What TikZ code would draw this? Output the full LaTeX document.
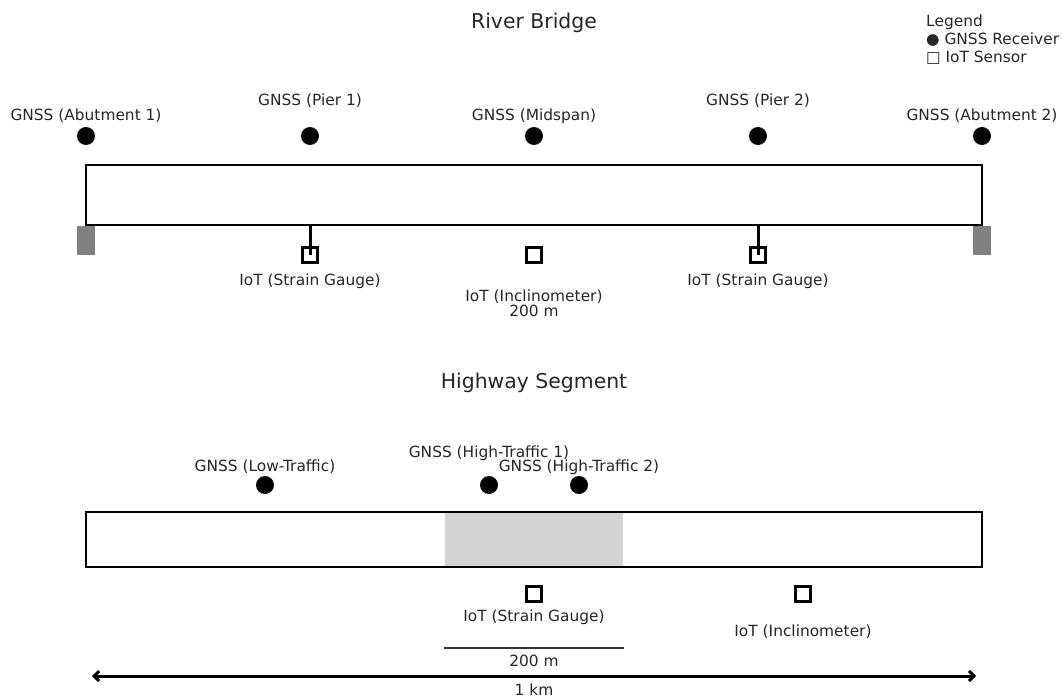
\documentclass[tikz,border=0pt]{standalone}
\usepackage{fontspec}
\setmainfont{DejaVu Sans}
\usetikzlibrary{arrows.meta}
\begin{document}
\begin{tikzpicture}[x=1pt,y=-1pt,
  lbl/.style={inner sep=0pt,font=\fontsize{15.4}{17}\selectfont,text=black!85},
  ttl/.style={inner sep=0pt,font=\fontsize{20.4}{23}\selectfont,text=black!85},
  gnss/.style={circle,fill=black,minimum size=18pt,inner sep=0pt},
  iot/.style={rectangle,draw=black,fill=white,line width=2.2pt,minimum size=15pt,inner sep=0pt},
  deck/.style={draw=black,line width=2.2pt},
  abut/.style={fill=black!50,draw=none}]
\useasboundingbox (0,0) rectangle (1062,698);
% Titles
\node[ttl] (t1) at (534,23) {River Bridge};
\node[ttl] (t2) at (534,383) {Highway Segment};
% Legend
\node[lbl,anchor=west] (lg) at (926,22) {Legend};
\node[lbl,anchor=west] (lg1) at (926,40) {● GNSS Receiver};
\node[lbl,anchor=west] (lg2) at (926,58) {□ IoT Sensor};
% Bridge deck
\draw[deck] (86,165) rectangle (982,225);
\coordinate (deckP1) at (310,225);
\coordinate (deckP2) at (758,225);
% Abutments
\fill[abut] (77,226) rectangle (95,255);
\fill[abut] (973,226) rectangle (991,255);
% Bridge GNSS
\node[gnss] (g1) at (86,136) {};
\node[gnss] (g2) at (310,136) {};
\node[gnss] (g3) at (534,136) {};
\node[gnss] (g4) at (758,136) {};
\node[gnss] (g5) at (982,136) {};
\node[lbl] (lg1t) at (86,116) {GNSS (Abutment 1)};
\node[lbl] (lg2t) at (310,101) {GNSS (Pier 1)};
\node[lbl] (lg3t) at (534,116) {GNSS (Midspan)};
\node[lbl] (lg4t) at (758,101) {GNSS (Pier 2)};
\node[lbl] (lg5t) at (982,116) {GNSS (Abutment 2)};
% Bridge IoT
\node[iot] (i1) at (310,255) {};
\node[iot] (i2) at (534,255) {};
\node[iot] (i3) at (758,255) {};
\draw[line width=3pt] (deckP1) -- (i1.center);
\draw[line width=3pt] (deckP2) -- (i3.center);
\node[lbl] (i1t) at (310,281) {IoT (Strain Gauge)};
\node[lbl] (i2t) at (534,297) {IoT (Inclinometer)};
\node[lbl] (i3t) at (758,281) {IoT (Strain Gauge)};
\node[lbl] (s1) at (534,311) {200 m};
% Highway
\fill[black!17] (445,513) rectangle (623,566);
\draw[deck] (86,512) rectangle (982,567);
\node[gnss] (h1) at (265,485) {};
\node[gnss] (h2) at (489,485) {};
\node[gnss] (h3) at (579,485) {};
\node[lbl] (h1t) at (265,467) {GNSS (Low-Traffic)};
\node[lbl] (h2t) at (489,453) {GNSS (High-Traffic 1)};
\node[lbl] (h3t) at (579,467) {GNSS (High-Traffic 2)};
\node[iot] (j1) at (534,594) {};
\node[iot] (j2) at (803,594) {};
\node[lbl] (j1t) at (534,617) {IoT (Strain Gauge)};
\node[lbl] (j2t) at (803,632) {IoT (Inclinometer)};
% Scale bar
\coordinate (sb1) at (444,648);
\coordinate (sb2) at (624,648);
\draw[line width=2.2pt,black!80] (sb1) -- (sb2);
\node[lbl] (sbt) at (534,661) {200 m};
% 1 km arrow
\coordinate (a1) at (92,676);
\coordinate (a2) at (976,676);
\draw[line width=3pt,{Straight Barb[length=5pt,width=10pt]}-{Straight Barb[length=5pt,width=10pt]}] (a1) -- (a2);
\node[lbl] (kmt) at (534,690) {1 km};
\end{tikzpicture}
\end{document}
